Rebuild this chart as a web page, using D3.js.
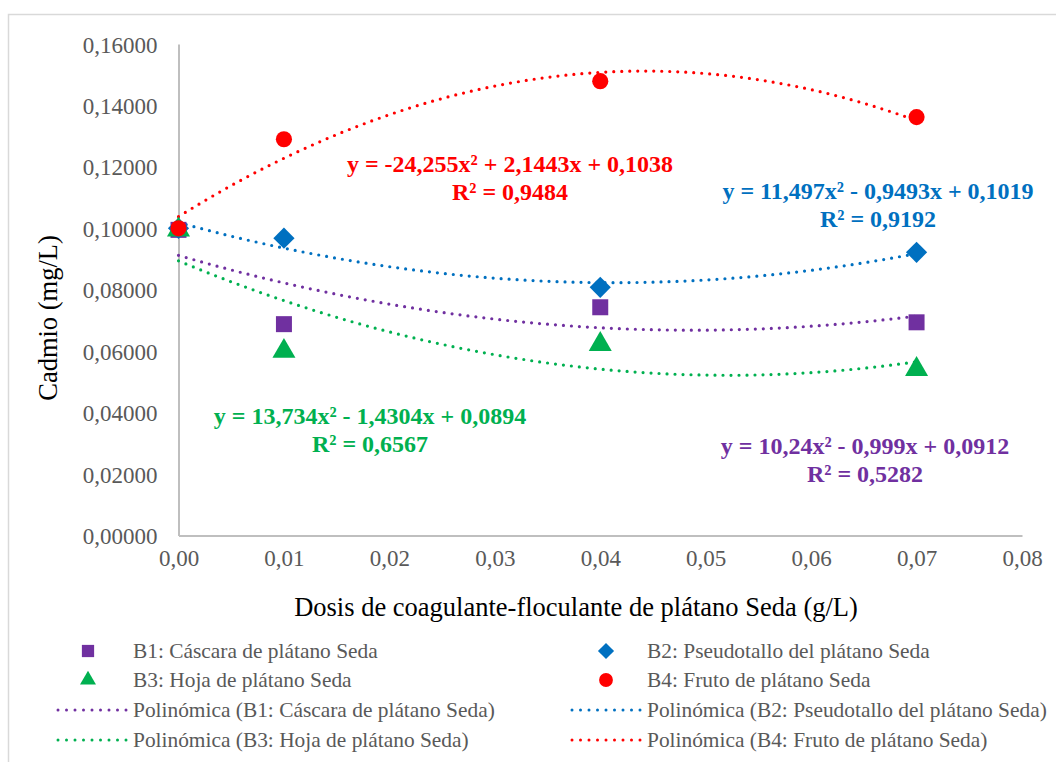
<!DOCTYPE html>
<html>
<head>
<meta charset="utf-8">
<script src="https://cdn.jsdelivr.net/npm/d3@7"></script>
<style>
  body { margin: 0; background: #fff; }
  text { font-family: "Liberation Serif", "Times New Roman", serif; }
</style>
</head>
<body>
<div id="chart"></div>
<script>
var svgWidth = 1056;
var svgHeight = 762;

// data
var doses = [0, 0.01, 0.04, 0.07];
var b1 = [0.0995, 0.0688, 0.0743, 0.0694];
var b2 = [0.1000, 0.0968, 0.0808, 0.0922];
var b3 = [0.0995, 0.0600, 0.0622, 0.0541];
var b4 = [0.1000, 0.1290, 0.1479, 0.1362];

// trendline coefficients [a, b, c] for a*x^2 + b*x + c
var fit1 = [10.24, -0.999, 0.0912];
var fit2 = [11.497, -0.9493, 0.1019];
var fit3 = [13.734, -1.4304, 0.0894];
var fit4 = [-24.255, 2.1443, 0.1038];

var seriesNames = ["B1: Cáscara de plátano Seda", "B2: Pseudotallo del plátano Seda",
  "B3: Hoja de plátano Seda", "B4: Fruto de plátano Seda"];
var eqLabels = ["y = 10,24x² - 0,999x + 0,0912", "y = 11,497x² - 0,9493x + 0,1019",
  "y = 13,734x² - 1,4304x + 0,0894", "y = -24,255x² + 2,1443x + 0,1038"];
var r2Labels = ["R² = 0,5282", "R² = 0,9192", "R² = 0,6567", "R² = 0,9484"];
var xTicks = [0, 0.01, 0.02, 0.03, 0.04, 0.05, 0.06, 0.07, 0.08];
var yTicks = [0, 0.02, 0.04, 0.06, 0.08, 0.10, 0.12, 0.14, 0.16];

var colors = ["#7030A0", "#0070C0", "#00B050", "#FF0000"];
var shapes = [d3.symbolSquare, d3.symbolSquare, d3.symbolTriangle, d3.symbolCircle];
var shapeSizes = [256, 225, 230, 205];
var legendSizes = [150, 130, 110, 150];
var rotations = [0, 45, 0, 0];

var series = [b1, b2, b3, b4];
var fits = [fit1, fit2, fit3, fit4];

var svg = d3.select("#chart").append("svg")
  .attr("width", svgWidth)
  .attr("height", svgHeight);

// outer chart border
svg.append("rect")
  .attr("x", 8.5).attr("y", 14.5)
  .attr("width", 1100).attr("height", 800)
  .attr("fill", "none")
  .attr("stroke", "#d9d9d9")
  .attr("stroke-width", 1.5);

var x = d3.scaleLinear().domain([0, 0.08]).range([178.5, 1022]);
var y = d3.scaleLinear().domain([0, 0.16]).range([535.5, 44]);

var fmtX = function(d) { return d3.format(".2f")(d).replace(".", ","); };
var fmtY = function(d) { return d3.format(".5f")(d).replace(".", ","); };

// axes
var xAxis = svg.append("g")
  .attr("transform", "translate(0," + y(0) + ")")
  .call(d3.axisBottom(x).tickValues(xTicks).tickSize(0).tickPadding(14).tickFormat(fmtX));
var yAxis = svg.append("g")
  .attr("transform", "translate(" + x(0) + ",0)")
  .call(d3.axisLeft(y).tickValues(yTicks).tickSize(0).tickPadding(21).tickFormat(fmtY));

[xAxis, yAxis].forEach(function(ax) {
  ax.select(".domain").attr("stroke", "#bfbfbf").attr("stroke-width", 2);
  ax.selectAll("text")
    .attr("fill", "#595959")
    .style("font-family", "'Liberation Serif', serif")
    .style("font-size", "23px");
});
yAxis.selectAll("text").attr("dy", "0.35em");

// axis titles
svg.append("text")
  .attr("x", 576).attr("y", 616)
  .attr("text-anchor", "middle")
  .attr("fill", "#000")
  .style("font-size", "26.5px")
  .text("Dosis de coagulante-floculante de plátano Seda (g/L)");

svg.append("text")
  .attr("transform", "translate(57,318) rotate(-90)")
  .attr("text-anchor", "middle")
  .attr("fill", "#000")
  .style("font-size", "26.5px")
  .text("Cadmio (mg/L)");

// trendlines
var line = d3.line().x(function(d) { return x(d[0]); }).y(function(d) { return y(d[1]); });
var xs = d3.range(0, 0.07 + 1e-9, 0.0005);

fits.forEach(function(f, i) {
  var pts = xs.map(function(v) { return [v, f[0] * v * v + f[1] * v + f[2]]; });
  svg.append("path")
    .datum(pts)
    .attr("d", line)
    .attr("fill", "none")
    .attr("stroke", colors[i])
    .attr("stroke-width", 3.2)
    .attr("stroke-linecap", "round")
    .attr("stroke-dasharray", "0 8");
});

// markers
series.forEach(function(vals, i) {
  svg.append("g").selectAll("path")
    .data(vals)
    .enter()
    .append("path")
    .attr("transform", function(d, j) {
      return "translate(" + x(doses[j]) + "," + y(d) + ") rotate(" + rotations[i] + ")";
    })
    .attr("d", d3.symbol().type(shapes[i]).size(shapeSizes[i]))
    .attr("fill", colors[i]);
});

// equation labels
var eqPos = [[865, 454], [878, 199], [370, 424], [510, 172]];
eqLabels.forEach(function(t, i) {
  var g = svg.append("text")
    .attr("text-anchor", "middle")
    .attr("fill", colors[i])
    .style("font-size", "24px")
    .style("font-weight", "bold");
  g.append("tspan").attr("x", eqPos[i][0]).attr("y", eqPos[i][1]).text(t);
  g.append("tspan").attr("x", eqPos[i][0]).attr("y", eqPos[i][1] + 28).text(r2Labels[i]);
});

// legend
var legCols = [{ mk: 88, ls: 58, le: 127, tx: 133 }, { mk: 606, ls: 572, le: 641, tx: 647 }];
var legRows = [651, 680, 710, 740];
var legendItems = [];
seriesNames.forEach(function(n, i) {
  legendItems.push({ type: "marker", i: i, label: n, col: i % 2, row: Math.floor(i / 2) });
});
seriesNames.forEach(function(n, i) {
  legendItems.push({ type: "line", i: i, label: "Polinómica (" + n + ")", col: i % 2, row: 2 + Math.floor(i / 2) });
});

legendItems.forEach(function(it) {
  var c = legCols[it.col];
  var yy = legRows[it.row];
  if (it.type === "marker") {
    svg.append("path")
      .attr("transform", "translate(" + c.mk + "," + yy + ") rotate(" + rotations[it.i] + ")")
      .attr("d", d3.symbol().type(shapes[it.i]).size(legendSizes[it.i]))
      .attr("fill", colors[it.i]);
  } else {
    svg.append("line")
      .attr("x1", c.ls).attr("x2", c.le)
      .attr("y1", yy).attr("y2", yy)
      .attr("stroke", colors[it.i])
      .attr("stroke-width", 3)
      .attr("stroke-linecap", "round")
      .attr("stroke-dasharray", "0 8.5");
  }
  svg.append("text")
    .attr("x", c.tx).attr("y", yy)
    .attr("dy", "0.35em")
    .attr("fill", "#595959")
    .style("font-size", "21.4px")
    .text(it.label);
});
</script>
</body>
</html>
